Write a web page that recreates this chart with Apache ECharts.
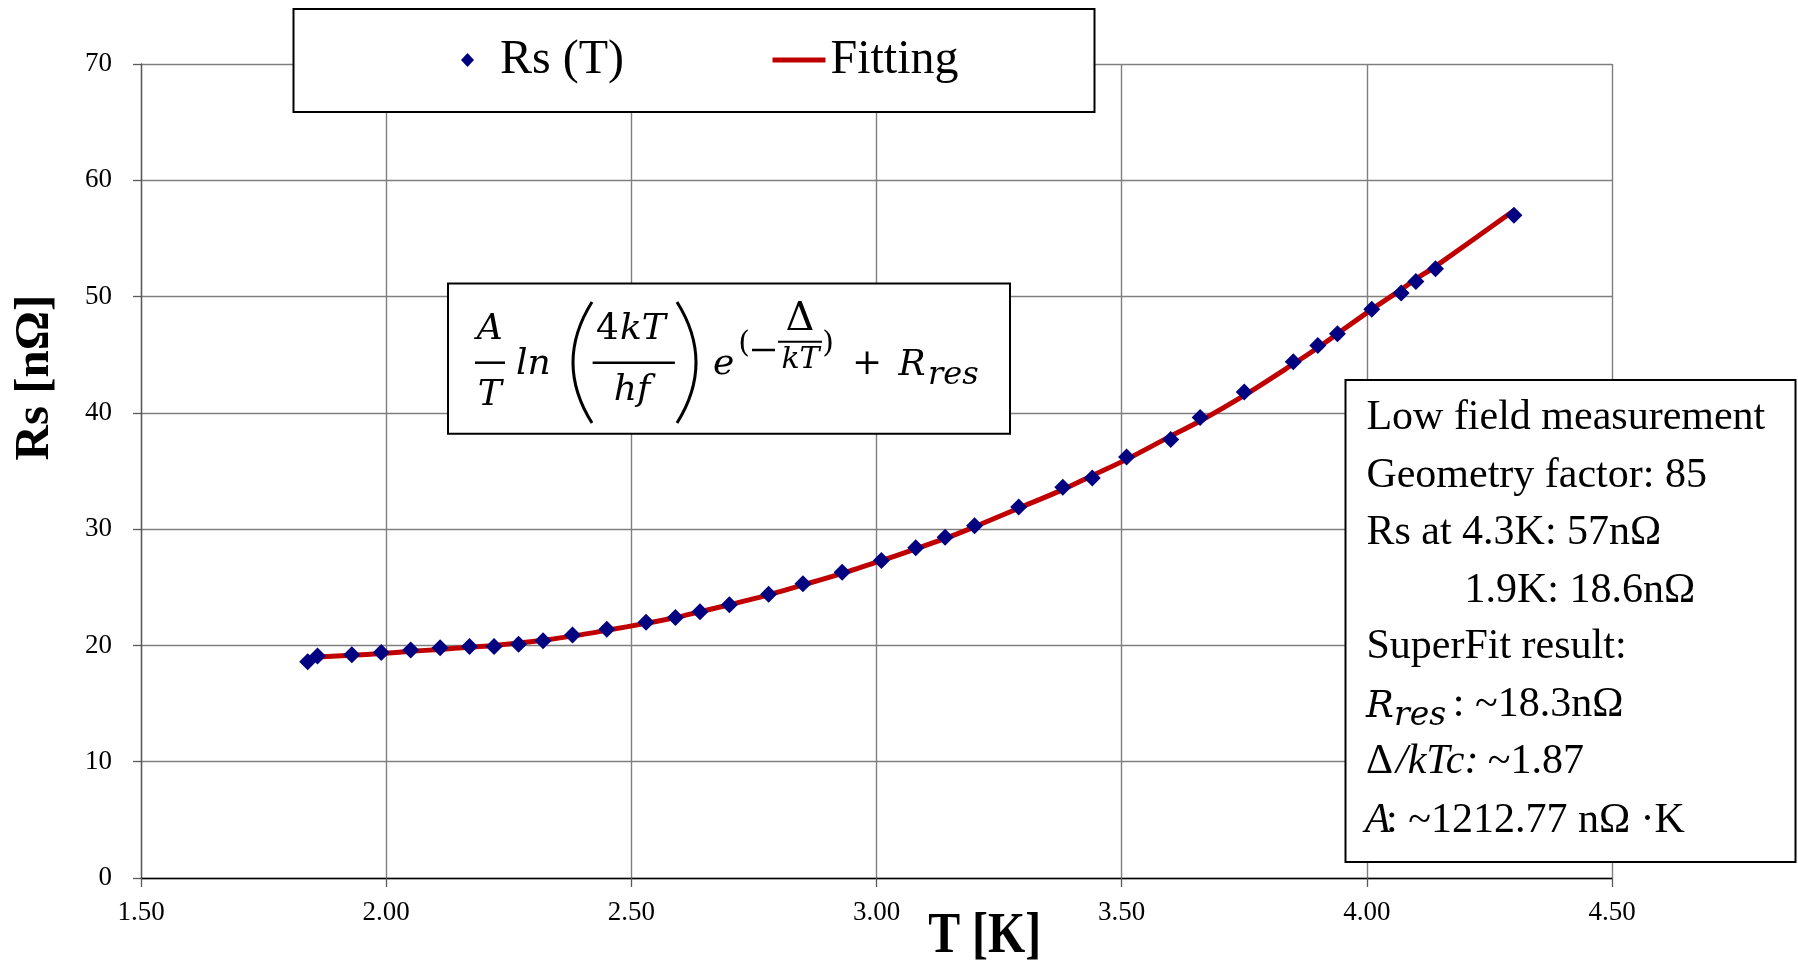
<!DOCTYPE html>
<html>
<head>
<meta charset="utf-8">
<title>Rs (T)</title>
<script src="https://cdn.jsdelivr.net/npm/echarts@6/dist/echarts.min.js"></script>
<style>
html, body { margin: 0; padding: 0; background: #fff; }
#chart { width: 1798px; height: 965px; }
</style>
</head>
<body>
<div id="chart"></div>
<script>
// measured points
var tempK = [1.84, 1.86, 1.93, 1.99, 2.05, 2.11, 2.17, 2.22, 2.27, 2.32, 2.38, 2.45, 2.53, 2.59, 2.64, 2.70, 2.78, 2.85, 2.93,
	3.01, 3.08, 3.14, 3.20, 3.29, 3.38, 3.44, 3.51, 3.60, 3.66, 3.75, 3.85, 3.90, 3.94, 4.01, 4.07, 4.10, 4.14, 4.30];
var rsMeas = [18.6, 19.1, 19.2, 19.4, 19.6, 19.8, 19.9, 19.9, 20.1, 20.4, 20.9, 21.4, 22.0, 22.4, 22.9, 23.5, 24.4, 25.3, 26.3,
	27.3, 28.4, 29.3, 30.3, 31.9, 33.6, 34.4, 36.2, 37.7, 39.6, 41.8, 44.4, 45.8, 46.8, 48.9, 50.3, 51.3, 52.4, 57.0];
// fitted curve
var fitT = [1.86, 1.93, 1.99, 2.05, 2.11, 2.17, 2.22, 2.27, 2.32, 2.38, 2.45, 2.53, 2.59, 2.64, 2.70, 2.78, 2.85, 2.93,
	3.01, 3.08, 3.14, 3.20, 3.29, 3.38, 3.44, 3.51, 3.60, 3.66, 3.75, 3.85, 3.90, 3.94, 4.01, 4.07, 4.10, 4.14, 4.30];
var fitRs = [19.0, 19.15, 19.3, 19.5, 19.65, 19.85, 20.0, 20.2, 20.45, 20.8, 21.3, 21.9, 22.4, 22.9, 23.5, 24.35, 25.2, 26.2,
	27.3, 28.3, 29.2, 30.2, 31.8, 33.4, 34.6, 36.0, 38.0, 39.3, 41.5, 44.2, 45.6, 46.8, 48.9, 50.6, 51.5, 52.6, 57.4];
// axes
var xRange = [1.5, 4.5, 0.5];
var yRange = [0, 70, 10];

var SERIF = '"Liberation Serif", "Times New Roman", serif';
var MATH = '"DejaVu Serif", serif';

function pairs(xs, ys) {
	var out = [];
	for (var i = 0; i < xs.length; i++) {
		out.push([xs[i], ys[i]]);
	}
	return out;
}

// text placed by its baseline
function txt(x, base, str, size, fam, italic, align, bold) {
	return {
		type: 'text', x: x, y: base - 0.34 * size, z: 51,
		style: {
			text: str, fontSize: size, fontFamily: fam,
			fontStyle: italic ? 'italic' : 'normal',
			fontWeight: bold ? 'bold' : 'normal',
			fill: '#000', align: align || 'left', verticalAlign: 'middle'
		}
	};
}

function hline(x1, x2, y, w) {
	return { type: 'line', z: 51, shape: { x1: x1, y1: y, x2: x2, y2: y }, style: { stroke: '#000', lineWidth: w } };
}

function box(x, y, w, h) {
	return { type: 'rect', z: 50, shape: { x: x, y: y, width: w, height: h }, style: { fill: '#fff', stroke: '#000', lineWidth: 2 } };
}

var graphics = [
	box(293.5, 9, 801, 103),
	box(448, 283.6, 562, 150.2),
	box(1345.5, 380, 450, 482),

	// formula
	txt(489.7, 341.7, 'A', 36, MATH, true, 'center'),
	hline(475, 505, 362.7, 2.5),
	txt(489.7, 408.2, 'T', 36, MATH, true, 'center'),
	txt(516, 377, 'ln', 36, MATH, true),
	{ type: 'bezierCurve', z: 51, shape: { x1: 592, y1: 302, x2: 592, y2: 423, cpx1: 554, cpy1: 362.5 }, style: { stroke: '#000', lineWidth: 3, fill: null } },
	txt(596, 341.7, '4', 36, MATH, false),
	txt(620, 341.7, 'kT', 36, MATH, true),
	hline(592.6, 674.9, 362.7, 2.5),
	txt(632, 403, 'hf', 36, MATH, true, 'center'),
	{ type: 'bezierCurve', z: 51, shape: { x1: 677, y1: 302, x2: 677, y2: 423, cpx1: 715, cpy1: 362.5 }, style: { stroke: '#000', lineWidth: 3, fill: null } },
	txt(723.7, 376.6, 'e', 36, MATH, true, 'center'),
	txt(744, 354, '(', 30, MATH, false, 'center'),
	hline(752, 775, 350, 2.5),
	txt(800, 333.4, 'Δ', 40, MATH, false, 'center'),
	hline(778, 822, 341.7, 2),
	txt(800.5, 370, 'kT', 30, MATH, true, 'center'),
	txt(828, 354, ')', 30, MATH, false, 'center'),
	txt(867, 377.2, '+', 36, MATH, false, 'center'),
	txt(912, 378.3, 'R', 36, MATH, true, 'center'),
	txt(928, 386.6, 'res', 32, MATH, true),

	// notes box
	txt(1366.4, 432, 'Low field measurement', 42, SERIF),
	txt(1366.4, 490, 'Geometry factor: 85', 42, SERIF),
	txt(1366.4, 547.5, 'Rs at 4.3K: 57nΩ', 42, SERIF),
	txt(1464.4, 605, '1.9K: 18.6nΩ', 42, SERIF),
	txt(1366.4, 661.5, 'SuperFit result:', 42, SERIF),
	txt(1366, 719.5, 'R', 37, MATH, true),
	txt(1394, 728, 'res', 33, MATH, true),
	txt(1452.8, 719.5, ': ~18.3nΩ', 42, SERIF),
	txt(1366, 776, 'Δ', 42, SERIF),
	txt(1396, 776, '/kTc:', 42, SERIF, true),
	txt(1487.8, 776, '~1.87', 42, SERIF),
	txt(1364.7, 835.5, 'A', 42, SERIF, true),
	txt(1386, 835.5, ': ~1212.77 nΩ ·K', 42, SERIF),

	// axis titles
	{
		type: 'text', x: 35, y: 377.5, rotation: Math.PI / 2, z: 51,
		style: { text: 'Rs [nΩ]', fontSize: 49, fontFamily: SERIF, fontWeight: 'bold', fill: '#000', align: 'center', verticalAlign: 'middle' }
	},
	{
		type: 'text', x: 984.7, y: 937, scaleX: 0.84, z: 51,
		style: { text: 'T [K]', fontSize: 57, fontFamily: SERIF, fontWeight: 'bold', fill: '#000', align: 'center', verticalAlign: 'middle' }
	}
];

var chart = echarts.init(document.getElementById('chart'), null, { renderer: 'canvas' });

chart.setOption({
	animation: false,
	backgroundColor: '#fff',
	grid: { left: 141, right: 186, top: 64, bottom: 87, containLabel: false },
	legend: [{
		data: [{ name: 'Rs (T)', icon: 'diamond' }],
		left: 461, top: 36, padding: 0, z: 60,
		itemWidth: 13, itemHeight: 14,
		selectedMode: false,
		formatter: '{a|{name}}',
		itemStyle: { opacity: 1 },
		textStyle: {
			fontFamily: SERIF, fontSize: 48, color: '#000',
			rich: { a: { fontFamily: SERIF, fontSize: 48, color: '#000', padding: [0, 0, 0, 21] } }
		}
	}, {
		data: ['Fitting'],
		left: 770, top: 36, padding: 0, z: 60,
		itemWidth: 53, itemHeight: 14,
		selectedMode: false,
		itemStyle: { opacity: 0 },
		lineStyle: { width: 5, color: '#C00000', opacity: 1 },
		textStyle: { fontFamily: SERIF, fontSize: 48, color: '#000' }
	}],
	xAxis: {
		type: 'value', min: xRange[0], max: xRange[1], interval: xRange[2],
		axisLine: { show: true, onZero: false, lineStyle: { color: '#000', width: 1.3 } },
		axisTick: { show: true, inside: false, length: 9, lineStyle: { color: '#595959', width: 1.3 } },
		axisLabel: {
			margin: 21, fontFamily: SERIF, fontSize: 27, color: '#000',
			showMinLabel: true, showMaxLabel: true,
			formatter: function(v) { return v.toFixed(2); }
		},
		splitLine: { show: true, lineStyle: { color: '#7f7f7f', width: 1.4 } }
	},
	yAxis: {
		type: 'value', min: yRange[0], max: yRange[1], interval: yRange[2],
		axisLine: { show: true, onZero: false, lineStyle: { color: '#595959', width: 1.3 } },
		axisTick: { show: true, inside: false, length: 8, lineStyle: { color: '#595959', width: 1.3 } },
		axisLabel: {
			margin: 29, fontFamily: SERIF, fontSize: 27, color: '#000',
			showMinLabel: true, showMaxLabel: true
		},
		splitLine: { show: true, lineStyle: { color: '#7f7f7f', width: 1.4 } }
	},
	series: [{
		name: 'Fitting',
		type: 'line',
		data: pairs(fitT, fitRs),
		symbol: 'none',
		smooth: 0.3,
		z: 2,
		lineStyle: { color: '#C00000', width: 5 },
		itemStyle: { color: '#C00000' }
	}, {
		name: 'Rs (T)',
		type: 'scatter',
		data: pairs(tempK, rsMeas),
		symbol: 'diamond',
		symbolSize: 17,
		z: 3,
		itemStyle: { color: '#000080', opacity: 1 }
	}],
	graphic: { elements: graphics }
});
</script>
</body>
</html>
